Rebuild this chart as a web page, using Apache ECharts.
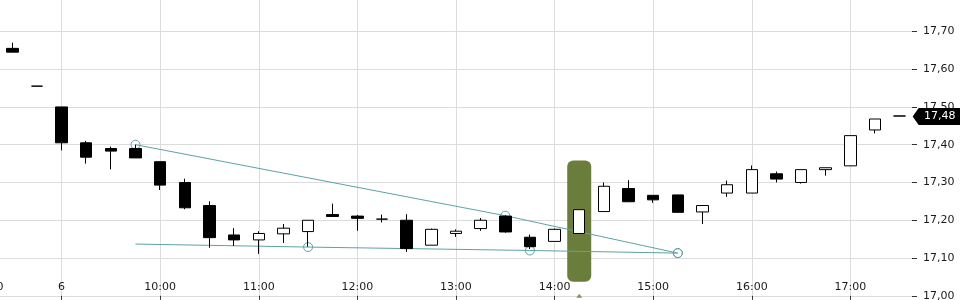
<!DOCTYPE html>
<html>
<head>
<meta charset="utf-8">
<script src="https://cdn.jsdelivr.net/npm/echarts@6/dist/echarts.min.js"></script>
<style>
html,body{margin:0;padding:0;background:#fff;}
#chart{width:960px;height:300px;}
</style>
</head>
<body>
<div id="chart"></div>
<script>
// 15-minute candles; "5 17:00" = previous session, "6 09:00" = session day 6
const categories = ['5 17:00','5 17:15','5 17:30',
  '6 09:00','6 09:15','6 09:30','6 09:45','6 10:00','6 10:15','6 10:30','6 10:45',
  '6 11:00','6 11:15','6 11:30','6 11:45','6 12:00','6 12:15','6 12:30','6 12:45',
  '6 13:00','6 13:15','6 13:30','6 13:45','6 14:00','6 14:15','6 14:30','6 14:45',
  '6 15:00','6 15:15','6 15:30','6 15:45','6 16:00','6 16:15','6 16:30','6 16:45',
  '6 17:00','6 17:15','6 17:30'];
const openVals  = [null,17.655,17.555,17.50,17.405,17.39,17.39,17.355,17.30,17.239,17.161,17.148,17.164,17.17,17.215,17.211,17.203,17.20,17.134,17.165,17.178,17.211,17.155,17.144,17.165,17.223,17.284,17.266,17.267,17.222,17.272,17.272,17.323,17.30,17.334,17.344,17.439,17.476];
const closeVals = [null,17.645,17.555,17.405,17.367,17.383,17.365,17.293,17.233,17.154,17.148,17.165,17.179,17.20,17.21,17.205,17.203,17.125,17.176,17.171,17.20,17.169,17.13,17.176,17.228,17.29,17.249,17.254,17.221,17.239,17.294,17.334,17.309,17.334,17.339,17.424,17.468,17.476];
const lowVals   = [null,17.645,17.555,17.385,17.35,17.335,17.365,17.28,17.229,17.127,17.132,17.111,17.14,17.13,17.21,17.172,17.194,17.116,17.134,17.156,17.172,17.167,17.124,17.144,17.165,17.223,17.249,17.246,17.221,17.19,17.262,17.272,17.30,17.297,17.318,17.344,17.43,17.476];
const highVals  = [null,17.67,17.555,17.50,17.41,17.395,17.40,17.355,17.31,17.25,17.179,17.171,17.19,17.20,17.244,17.214,17.215,17.216,17.178,17.176,17.206,17.213,17.162,17.178,17.228,17.30,17.306,17.266,17.267,17.239,17.305,17.345,17.329,17.334,17.339,17.424,17.468,17.476];

const yTicks = { min: 17.0, max: 17.8, step: 0.1 };

const trendUpperCats = ['6 09:45','6 13:30','6 15:15'];
const trendUpperVals = [17.40, 17.212, 17.113];
const trendLowerCats = ['6 09:45','6 11:30','6 13:45','6 15:15'];
const trendLowerVals = [17.137, 17.129, 17.12, 17.113];

const highlightCat = '6 14:15';
const highlightLow = 17.037;
const highlightHigh = 17.358;

const lastCat = categories[categories.length - 1];
const lastPrice = closeVals[closeVals.length - 1];

const TEAL = '#5ea2a5';
const OLIVE = '#6b7d3a';
const FONT = 'DejaVu Sans';

const candleData = categories.map((c, i) =>
  openVals[i] == null ? '-' : [openVals[i], closeVals[i], lowVals[i], highVals[i]]);

const isHour = (i, v) => /:00$/.test(v);
const fmtCat = v => {
  const [d, t] = v.split(' ');
  if (t === '09:00') return d;
  return t.replace(/^0/, '');
};

const chart = echarts.init(document.getElementById('chart'));
chart.setOption({
  animation: false,
  backgroundColor: '#fff',
  grid: { left: -24.7, right: 48, top: -6.4, bottom: 4.2, containLabel: false, outerBoundsMode: 'none' },
  xAxis: {
    type: 'category',
    data: categories,
    boundaryGap: true,
    axisLine: { show: false },
    axisTick: { show: true, alignWithLabel: true, interval: isHour, length: 4, lineStyle: { color: '#333' } },
    axisLabel: { inside: true, margin: 3, interval: isHour, formatter: fmtCat, fontSize: 11, fontFamily: FONT, color: '#1a1a1a' },
    splitLine: { show: true, alignWithLabel: true, interval: isHour, lineStyle: { color: '#dcdcdc', width: 1 } }
  },
  yAxis: {
    type: 'value',
    position: 'right',
    min: yTicks.min, max: yTicks.max, interval: yTicks.step,
    axisLine: { show: false },
    axisTick: { show: true, length: 5, lineStyle: { color: '#333' } },
    axisLabel: { margin: 11, fontSize: 11, fontFamily: FONT, color: '#1a1a1a', showMaxLabel: false,
      formatter: v => v.toFixed(2).replace('.', ',') },
    splitLine: { show: true, lineStyle: { color: '#dcdcdc', width: 1 } }
  },
  series: [
    {
      type: 'bar', stack: 'hl', z: 1, silent: true, barWidth: 24,
      itemStyle: { color: 'rgba(0,0,0,0)' },
      data: categories.map(c => c === highlightCat ? highlightLow : '-')
    },
    {
      type: 'bar', stack: 'hl', z: 1, silent: true, barWidth: 24,
      itemStyle: { color: OLIVE, borderRadius: 6 },
      data: categories.map(c => c === highlightCat ? +(highlightHigh - highlightLow).toFixed(4) : '-')
    },
    {
      type: 'line', z: 3, silent: true,
      lineStyle: { color: TEAL, width: 1 },
      symbol: 'circle', symbolSize: 9,
      itemStyle: { color: 'rgba(255,255,255,0)', borderColor: TEAL, borderWidth: 1 },
      data: trendUpperCats.map((c, i) => [c, trendUpperVals[i]])
    },
    {
      type: 'line', z: 3, silent: true,
      lineStyle: { color: TEAL, width: 1 },
      symbol: 'circle', symbolSize: 9,
      itemStyle: { color: 'rgba(255,255,255,0)', borderColor: TEAL, borderWidth: 1 },
      data: trendLowerCats.map((c, i) => i === 0 ? { value: [c, trendLowerVals[i]], symbol: 'none' } : [c, trendLowerVals[i]])
    },
    {
      type: 'candlestick', z: 4, barWidth: 12,
      itemStyle: { color: '#fff', color0: '#000', borderColor: '#000', borderColor0: '#000', borderWidth: 1 },
      data: candleData,
      markPoint: {
        silent: true,
        symbol: 'path://M0,8.5L6,0L48,0L48,17L6,17Z',
        symbolSize: [48, 17],
        symbolOffset: [37, 0.5],
        itemStyle: { color: '#000' },
        label: { show: true, color: '#fff', fontSize: 11, fontFamily: FONT, offset: [3, 0],
          formatter: p => p.value.toFixed(2).replace('.', ',') },
        data: [{ coord: [lastCat, lastPrice], value: lastPrice }]
      }
    },
    {
      type: 'scatter', z: 5, silent: true, clip: false,
      symbol: 'triangle', symbolSize: [6, 4],
      itemStyle: { color: OLIVE },
      data: [[highlightCat, yTicks.min]]
    }
  ]
});
</script>
</body>
</html>
